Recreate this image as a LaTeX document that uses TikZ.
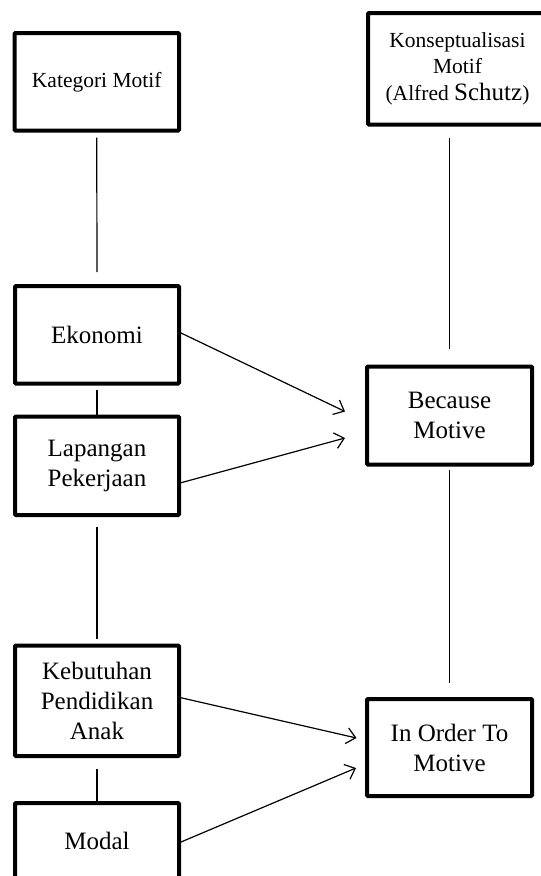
\documentclass[tikz,border=0pt]{standalone}
\usepackage{fontspec}
\setmainfont{Liberation Serif}
\usetikzlibrary{arrows.meta,calc}
\begin{document}
\begin{tikzpicture}[x=1pt,y=-1pt,
  box/.style={draw,line width=4pt,align=center,inner sep=0pt,rounded corners=1pt,
    font=\fontsize{25}{30}\selectfont},
  small/.style={font=\fontsize{21.5}{26.5}\selectfont},
  conn/.style={line width=1.2pt},
  arr/.style={conn,-{Straight Barb[length=9pt,width=16pt,line width=1.2pt]}}]
\clip (0,0) rectangle (541,876);
\useasboundingbox (0,0) rectangle (541,876);

% left column
\node[box,small,minimum width=164.5pt,minimum height=97.5pt] (kat) at (96.75,81.75) {Kategori Motif};
\node[box,minimum width=164pt,minimum height=97.5pt] (eko) at (97,334.75) {Ekonomi};
\node[box,minimum width=164pt,minimum height=98.5pt] (lap) at (97,465.75) {Lapangan\\Pekerjaan};
\node[box,minimum width=164pt,minimum height=110.5pt] (keb) at (97,700.75) {Kebutuhan\\Pendidikan\\Anak};
\node[box,minimum width=164pt,minimum height=75pt] (mod) at (97,840.5) {Modal};

% right column
\node[box,small,minimum width=179pt,minimum height=111.5pt] (kon) at (457.5,68.75)
  {Konseptualisasi\\Motif\\(Alfred {\fontsize{25}{26.5}\selectfont Schutz})};
\node[box,minimum width=165pt,minimum height=98pt] (bec) at (449.5,415.5) {Because\\Motive};
\node[box,minimum width=165pt,minimum height=97pt] (ino) at (449.5,747.5) {In Order To\\Motive};

% vertical connectors
\draw[conn,shorten <=5pt,shorten >=12pt] (kat.south) -- (eko.north);
\draw[conn,shorten <=4pt] (eko.south) -- (lap.north);
\draw[conn,shorten <=10pt,shorten >=5pt] (lap.south) -- (keb.north);
\draw[conn,shorten <=11pt] (keb.south) -- (mod.north);
\draw[conn,shorten <=11pt,shorten >=16pt] (kon.south -| bec.north) -- (bec.north);
\draw[conn,shorten <=3pt,shorten >=14pt] (bec.south) -- (ino.north);

% arrows
\draw[arr] ($(eko.east)+(0,-1.75)$) -- ($(bec.west)+(-20,-4)$);
\draw[arr] ($(lap.east)+(0,17)$) -- ($(bec.west)+(-20,22.5)$);
\draw[arr] ($(keb.east)+(0,-3)$) -- ($(ino.west)+(-8.5,-9.5)$);
\draw[arr] ($(mod.east)+(0,1.5)$) -- ($(ino.west)+(-9,20.5)$);
\end{tikzpicture}
\end{document}
